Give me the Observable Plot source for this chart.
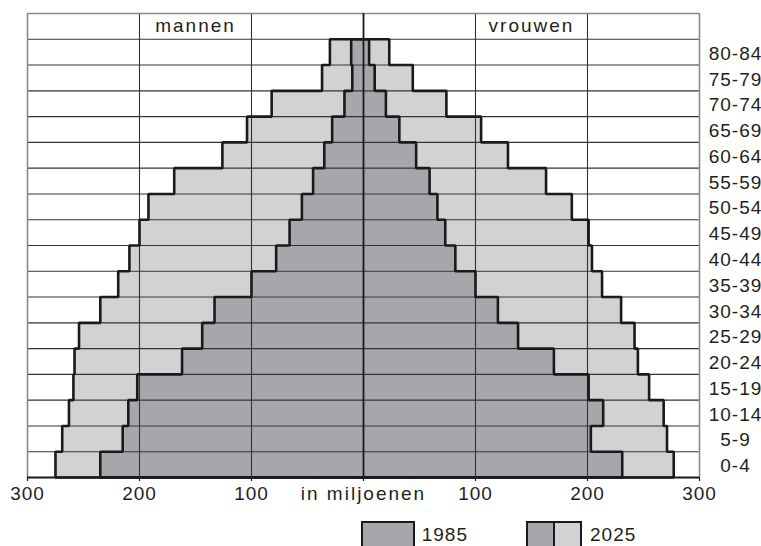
<!DOCTYPE html>
<html>
<head>
<meta charset="utf-8">
<script src="https://cdn.jsdelivr.net/npm/d3@7"></script>
<script src="https://cdn.jsdelivr.net/npm/@observablehq/plot@0.6"></script>
<style>
  html, body { margin: 0; padding: 0; background: #fff; overflow: hidden; }
  body { width: 761px; height: 546px; font-family: "Liberation Sans", Arial, sans-serif; color: #231f20; }
  #chart svg { display: block; }
  #legend { position: relative; height: 36px; }
  #legend .sw { position: absolute; box-sizing: border-box; border: 2.5px solid #1a1a1a; height: 40px; display: flex; }
  #legend .sw div { height: 100%; }
  #legend .lab { position: absolute; font-size: 19px; line-height: 19px; letter-spacing: 1px; }
</style>
</head>
<body>
<div id="chart"></div>
<div id="legend"></div>
<script>
// ---- data, top row first ----
const ages = ["80-84","75-79","70-74","65-69","60-64","55-59","50-54","45-49","40-44",
              "35-39","30-34","25-29","20-24","15-19","10-14","5-9","0-4"];
const men1985   = [11, 10, 17, 28, 35, 45, 55, 66, 78, 100, 133, 144, 162, 202, 210, 215, 235];
const men2025   = [30, 37, 82, 104, 126, 169, 192, 200, 209, 219, 235, 254, 258, 259, 263, 269, 275];
const women1985 = [5, 10, 20, 32, 47, 59, 66, 73, 82, 100, 120, 138, 170, 201, 214, 203, 231];
const women2025 = [23, 44, 74, 105, 129, 163, 186, 201, 204, 213, 230, 242, 245, 255, 268, 271, 277];
const xTicks = [-300, -200, -100, 0, 100, 200, 300];
const xTickLabels = ["300", "200", "100", "in miljoenen", "100", "200", "300"];
const sideLabels = ["mannen", "vrouwen"];
const sidePos = [-150, 150];
const legendYears = ["1985", "2025"];

const color1985 = "#a6a7aa";
const color2025 = "#d1d2d4";
const ink = "#1a1a1a";

const n = ages.length;
const rows = ages.map((age, k) => ({
  age, row: n - 1 - k,
  m85: men1985[k], m25: men2025[k], w85: women1985[k], w25: women2025[k]
}));

function outline(key, sign) {
  const pts = [{x: 0, y: n, g: key}];
  for (const r of rows) pts.push({x: sign * r[key], y: r.row + 1, g: key});
  pts.push({x: sign * rows[n - 1][key], y: 0, g: key});
  pts.push({x: 0, y: 0, g: key});
  return pts;
}
const outlines = [
  ...outline("m25", -1), ...outline("w25", 1),
  ...outline("m85", -1), ...outline("w85", 1)
];

const font = "Liberation Sans, Arial, sans-serif";

const chart = Plot.plot({
  width: 761,
  height: 510,
  marginLeft: 27,
  marginRight: 62,
  marginTop: 13,
  marginBottom: 33,
  style: {fontFamily: font, color: "#231f20", background: "#fff"},
  x: {domain: [-300, 300], axis: null, label: null},
  y: {domain: [0, n + 1], axis: null},
  marks: [
    Plot.rectX(rows, {x1: 0, x2: d => -d.m25, y1: "row", y2: d => d.row + 1, fill: color2025}),
    Plot.rectX(rows, {x1: 0, x2: d => d.w25, y1: "row", y2: d => d.row + 1, fill: color2025}),
    Plot.rectX(rows, {x1: 0, x2: d => -d.m85, y1: "row", y2: d => d.row + 1, fill: color1985}),
    Plot.rectX(rows, {x1: 0, x2: d => d.w85, y1: "row", y2: d => d.row + 1, fill: color1985}),
    Plot.ruleY(d3.range(1, n + 1), {x1: -300, x2: 300, stroke: "#333", strokeWidth: 1.1}),
    Plot.ruleX(xTicks.filter(t => t !== 0 && Math.abs(t) !== 300), {y1: 0, y2: n + 1, stroke: "#333", strokeWidth: 1.1}),
    Plot.ruleX([-300, 300], {y1: 0, y2: n + 1, stroke: "#8a8a8a", strokeWidth: 1.6}),
    Plot.ruleY([n + 1], {x1: -300, x2: 300, stroke: "#8a8a8a", strokeWidth: 1.6}),
    Plot.line(outlines, {x: "x", y: "y", z: "g", curve: "step-before", stroke: ink, strokeWidth: 2.6, strokeLinejoin: "miter"}),
    Plot.ruleX([0], {y1: 0, y2: n + 1, stroke: ink, strokeWidth: 1.8}),
    Plot.axisX({ticks: xTicks, tickSize: 4, tickFormat: () => "", label: null, stroke: ink, strokeWidth: 1.2}),
    Plot.ruleY([0], {x1: -300, x2: 300, stroke: ink, strokeWidth: 2}),
    Plot.text(xTicks, {x: d => d, y: 0, dy: 16, text: (d, i) => xTickLabels[i], fontSize: 19, fill: "#231f20", textAnchor: "middle", lineAnchor: "middle"}),
    Plot.text(rows, {x: 300, y: d => d.row + 0.5, dx: 36, dy: 1.5, text: "age", fontSize: 19, fill: "#231f20", textAnchor: "middle", lineAnchor: "middle"}),
    Plot.text(sideLabels, {x: (d, i) => sidePos[i], y: n + 0.5, dy: 0, text: d => d, fontSize: 19, fill: "#231f20", textAnchor: "middle", lineAnchor: "middle"})
  ]
});
d3.select(chart).selectAll("text").each(function() {
  const t = this.textContent;
  if (/[a-z]/.test(t)) this.setAttribute("letter-spacing", "2");
  else this.setAttribute("letter-spacing", "1");
});
document.getElementById("chart").appendChild(chart);

// ---- legend ----
const legend = document.getElementById("legend");
const swatches = [
  {left: 360.5, width: 54.5, parts: [color1985], lab: 421.7},
  {left: 525.5, width: 56.5, parts: [color1985, color2025], lab: 590}
];
swatches.forEach((s, i) => {
  const box = document.createElement("div");
  box.className = "sw";
  box.style.left = s.left + "px";
  box.style.top = "10.5px";
  box.style.width = s.width + "px";
  s.parts.forEach((c, j) => {
    const p = document.createElement("div");
    p.style.flex = "1";
    p.style.background = c;
    if (j > 0) p.style.borderLeft = "2.5px solid " + ink;
    box.appendChild(p);
  });
  legend.appendChild(box);
  const lab = document.createElement("span");
  lab.className = "lab";
  lab.style.left = s.lab + "px";
  lab.style.top = "14.6px";
  lab.textContent = legendYears[i];
  legend.appendChild(lab);
});
</script>
</body>
</html>
